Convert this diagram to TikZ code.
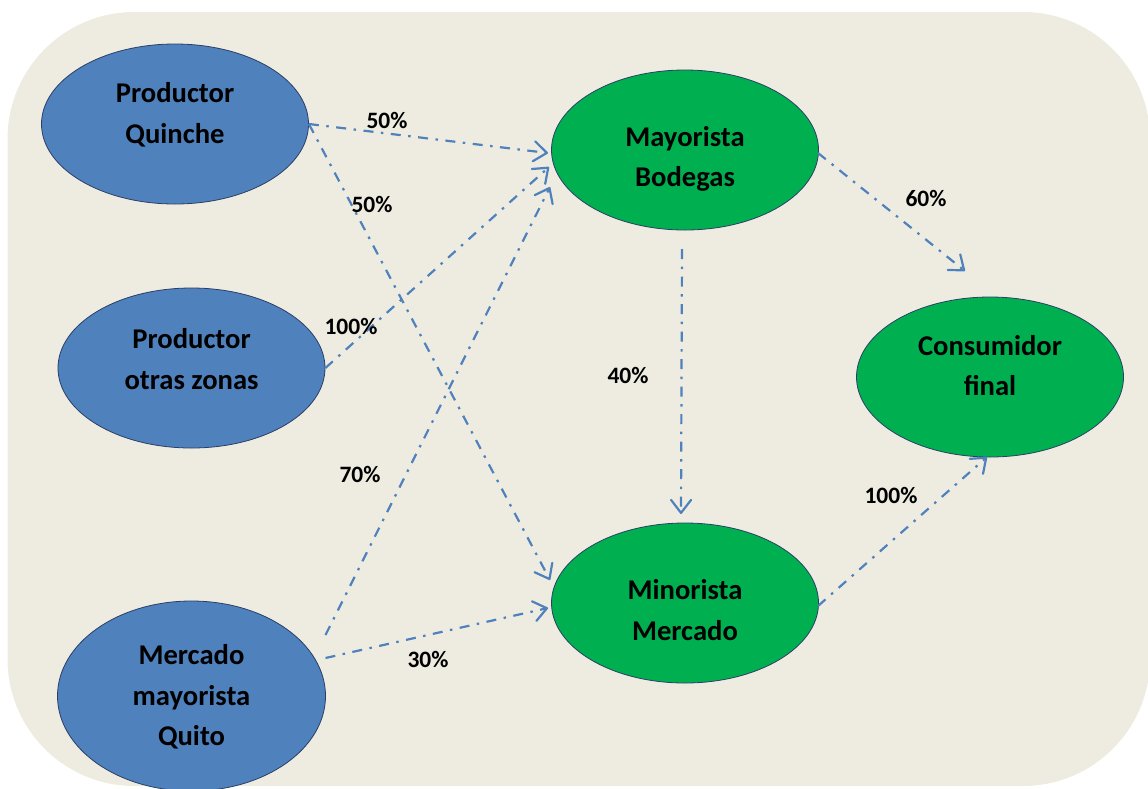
\documentclass[tikz,border=0pt]{standalone}
\usepackage{fontspec}
\setmainfont{Carlito}
\usetikzlibrary{shapes.geometric,arrows.meta}
\definecolor{bgc}{HTML}{EEECE1}
\definecolor{blu}{HTML}{4F81BD}
\definecolor{grn}{HTML}{00B050}
\definecolor{edg}{HTML}{2A3F66}
\definecolor{arr}{HTML}{4F81BD}
\tikzset{
  ell/.style={ellipse, draw=edg, line width=0.8pt, inner sep=0pt, minimum width=267pt, minimum height=160pt},
  bluell/.style={ell, fill=blu},
  grnell/.style={ell, fill=grn},
  etext/.style={align=center, font=\fontsize{28.6}{40.5}\selectfont\bfseries, text=black, inner sep=0pt},
  pct/.style={font=\fontsize{23.5}{28}\selectfont\bfseries, text=black, inner sep=0pt},
  flow/.style={draw=arr, line width=2.2pt, line cap=butt,
    dash pattern=on 10pt off 7.5pt on 2.5pt off 7.5pt,
    -{Straight Barb[length=13pt,width=20pt,line cap=round,line join=round]}}
}
\begin{document}
\begin{tikzpicture}[x=1pt,y=-1pt]
\clip (0,0) rectangle (1148,788);
\fill[bgc, rounded corners=127pt] (7.5,12) rectangle (1150,786);

% ellipses
\node[bluell] (qu) at (175,124) {};
\node[bluell] (oz) at (191.5,368) {};
\node[bluell, minimum height=190pt, minimum width=268pt] (mq) at (191.5,696) {};
\node[grnell] (mb) at (685,150) {};
\node[grnell] (mm) at (685,603) {};
\node[grnell] (cf) at (990,377) {};

% texts
\node[etext] (qut) at (175,115) {Productor\\Quinche};
\node[etext] (ozt) at (191.5,359) {Productor\\otras zonas};
\node[etext] (mqt) at (191.5,697) {Mercado\\mayorista\\Quito};
\node[etext] (mbt) at (685,159) {Mayorista\\Bodegas};
\node[etext] (mmt) at (685,610) {Minorista\\Mercado};
\node[etext] (cft) at (990,365.5) {Consumidor\\final};

% connectors
\draw[flow] (qu.east) -- ([shift={(-137,3)}]mb.center);
\draw[flow] (qu.east) -- ([shift={(-135,-23)}]mm.center);
\draw[flow] (oz.east) -- ([shift={(-136,17)}]mb.center);
\draw[flow] ([shift={(134,-61)}]mq.center) -- ([shift={(-135,37)}]mb.center);
\draw[flow] ([shift={(134,-38)}]mq.center) -- ([shift={(-137,5)}]mm.center);
\draw[flow] ([shift={(-3,99)}]mb.center) -- ([shift={(-4,-89)}]mm.center);
\draw[flow] ([shift={(133,3)}]mb.center) -- ([shift={(-25,-106)}]cf.center);
\draw[flow] ([shift={(133,3)}]mm.center) -- ([shift={(-3,80)}]cf.center);

% labels
\node[pct] (l1) at (387,120) {50\%};
\node[pct] (l2) at (372,204) {50\%};
\node[pct] (l3) at (351,326) {100\%};
\node[pct] (l4) at (360,474) {70\%};
\node[pct] (l5) at (428,659) {30\%};
\node[pct] (l6) at (628,375) {40\%};
\node[pct] (l7) at (926,198) {60\%};
\node[pct] (l8) at (891,495) {100\%};
\end{tikzpicture}
\end{document}
